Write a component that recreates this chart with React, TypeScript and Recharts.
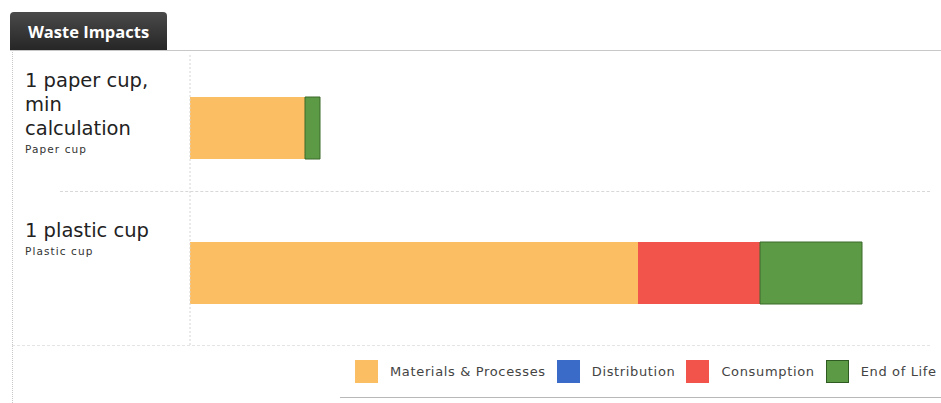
import React from 'react';
import { BarChart, Bar, XAxis, YAxis, Legend } from 'recharts';

// rows of the chart
const categories = ['paper', 'plastic'];
const titles = [['1 paper cup,', 'min', 'calculation'], ['1 plastic cup']];
const subtitles = ['Paper cup', 'Plastic cup'];

// impact per life-cycle stage
const materials = [11.5, 44.8];
const distribution = [0, 0];
const consumption = [0, 12.2];
const endOfLife = [1.5, 10.2];

const seriesNames = ['Materials & Processes', 'Distribution', 'Consumption', 'End of Life'];
const seriesKeys = ['materials', 'distribution', 'consumption', 'endOfLife'];
const seriesColors = ['#fcbe62', '#3b6bc9', '#f2534a', '#5c9a45'];

const data = categories.map((name, i) => ({
    name,
    materials: materials[i],
    distribution: distribution[i],
    consumption: consumption[i],
    endOfLife: endOfLife[i],
}));

const RowLabel = (props: any) => {
    const { x, y, payload } = props;
    const i = categories.indexOf(payload.value);
    const lines = titles[i];
    const left = x - 157;
    const top = y - 41 + (lines.length === 1 ? 5 : 0);
    return (
        <g>
            <text x={left} y={top} fontFamily="'DejaVu Sans', sans-serif" fontSize={19.5} fill="#222">
                {lines.map((l, k) => (
                    <tspan key={k} x={left} dy={k === 0 ? 0 : 24}>{l}</tspan>
                ))}
            </text>
            <text x={left} y={top + (lines.length - 1) * 24 + 18} fontFamily="'DejaVu Sans', sans-serif"
                fontSize={10.5} letterSpacing={1.1} fill="#333">
                {subtitles[i]}
            </text>
        </g>
    );
};

const LegendBox = () => (
    <div style={{ display: 'flex', alignItems: 'center', marginTop: 15, fontFamily: "'DejaVu Sans', sans-serif", fontSize: 13, letterSpacing: 0.65, color: '#444', whiteSpace: 'nowrap' }}>
        {seriesNames.map((n, i) => (
            <div key={n} style={{ display: 'flex', alignItems: 'center', marginRight: 11 }}>
                <span style={{ width: 23, height: 23, background: seriesColors[i], display: 'inline-block', marginRight: 12, boxSizing: 'border-box', border: i === 3 ? '1px solid #2f5a22' : 'none' }} />
                {n}
            </div>
        ))}
    </div>
);

const App = () => {
    return (
        <div style={{ position: 'absolute', left: 0, top: 0, width: 941, height: 403, background: '#fff', overflow: 'hidden' }}>
            <div style={{
                position: 'absolute', left: 10, top: 12, width: 157, height: 38,
                background: 'linear-gradient(#4a4a4a, #262626)', borderRadius: '4px 4px 0 0',
                color: '#fff', fontFamily: "'Open Sans', sans-serif", fontWeight: 700, fontSize: 16.5,
                display: 'flex', alignItems: 'center', justifyContent: 'center',
            }}>
                Waste Impacts
            </div>
            <div style={{ position: 'absolute', left: 10, top: 50, width: 931, borderTop: '1px solid #c8c8c8' }} />
            <div style={{ position: 'absolute', left: 12, top: 50, height: 353, borderLeft: '1px dotted #c8c8c8' }} />
            <div style={{ position: 'absolute', left: 60, top: 191, width: 870, borderTop: '1px dashed #d8d8d8' }} />
            <div style={{ position: 'absolute', left: 12, top: 345, width: 918, borderTop: '1px dashed #e4e4e4' }} />
            <div style={{ position: 'absolute', left: 340, top: 397, width: 601, borderTop: '1px solid #b8b8b8' }} />
            <div style={{ position: 'absolute', left: 10, top: 50 }}>
                <BarChart width={931} height={353} data={data} layout="vertical" barSize={62}
                    margin={{ top: 5, right: 11, left: 0, bottom: 18 }}>
                    <XAxis type="number" domain={[0, 74]} hide />
                    <YAxis type="category" dataKey="name" width={180} tick={<RowLabel />} tickLine={false}
                        axisLine={{ stroke: '#d4d4d4', strokeDasharray: '2 2' }} />
                    <Legend verticalAlign="bottom" content={<LegendBox />}
                        wrapperStyle={{ left: 345, width: 620, height: 40 }} />
                    {seriesKeys.map((k, i) => (
                        <Bar key={k} dataKey={k} stackId="a" fill={seriesColors[i]}
                            stroke={k === 'endOfLife' ? '#3a6a2a' : 'none'} strokeWidth={1}
                            isAnimationActive={false} />
                    ))}
                </BarChart>
            </div>
        </div>
    );
};

export default App;
